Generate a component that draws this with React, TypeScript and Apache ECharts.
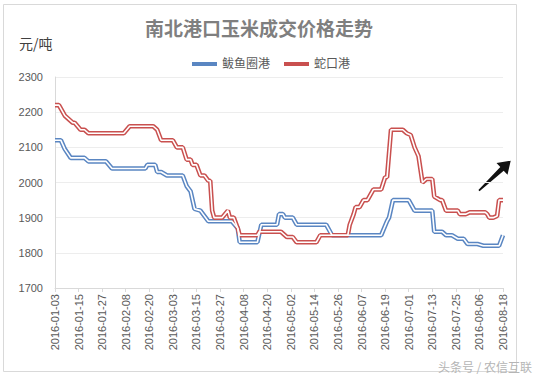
import React, { useEffect, useRef } from "react";
import * as echarts from "echarts";

const xTickLabels = [
  "2016-01-03", "2016-01-15", "2016-01-27", "2016-02-08", "2016-02-20",
  "2016-03-03", "2016-03-15", "2016-03-27", "2016-04-08", "2016-04-20",
  "2016-05-02", "2016-05-14", "2016-05-26", "2016-06-07", "2016-06-19",
  "2016-07-01", "2016-07-13", "2016-07-25", "2016-08-06", "2016-08-18",
];

// day offset from 2016-01-03
const bayuquanDays = [0, 3, 5, 8, 15, 17, 26, 29, 46, 47, 51, 52, 54, 57, 65, 67, 69, 71, 74, 78, 90, 93, 94, 103, 105, 113, 114, 116, 117, 121, 123, 138, 141, 166, 169, 170, 172, 180, 182, 183, 192, 193, 197, 199, 202, 205, 208, 210, 215, 218, 226, 228];
const bayuquanValues = [2120, 2120, 2095, 2070, 2070, 2060, 2060, 2040, 2040, 2050, 2050, 2030, 2030, 2020, 2020, 1990, 1975, 1925, 1920, 1890, 1890, 1870, 1830, 1830, 1880, 1880, 1910, 1910, 1900, 1900, 1880, 1880, 1850, 1850, 1890, 1900, 1950, 1950, 1930, 1920, 1920, 1860, 1860, 1850, 1850, 1840, 1840, 1825, 1825, 1820, 1820, 1850];

const shekouDays = [0, 2, 5, 9, 10, 13, 15, 17, 35, 38, 50, 52, 54, 60, 62, 65, 67, 69, 70, 72, 74, 76, 78, 79, 80, 81, 85, 88, 89, 91, 93, 94, 103, 104, 115, 118, 121, 123, 133, 135, 149, 150, 152, 153, 155, 157, 159, 162, 166, 168, 169, 171, 177, 179, 181, 183, 185, 187, 189, 192, 193, 196, 197, 199, 205, 206, 209, 211, 219, 220, 221, 223, 225, 226, 228];
const shekouValues = [2220, 2220, 2190, 2170, 2170, 2150, 2150, 2140, 2140, 2160, 2160, 2150, 2120, 2120, 2100, 2100, 2065, 2065, 2050, 2050, 2020, 2020, 2005, 2005, 1920, 1900, 1900, 1920, 1900, 1900, 1870, 1850, 1850, 1860, 1860, 1845, 1845, 1830, 1830, 1850, 1850, 1880, 1910, 1930, 1930, 1950, 1950, 1980, 1980, 2015, 2015, 2150, 2150, 2140, 2135, 2100, 2075, 2000, 2010, 2010, 1960, 1950, 1950, 1920, 1920, 1910, 1910, 1915, 1915, 1910, 1900, 1900, 1905, 1950, 1950];

const seriesNames = ["鲅鱼圈港", "蛇口港"];
const FONT = "Liberation Sans, Noto Sans CJK SC, sans-serif";

function pairs(days: number[], vals: number[]) {
  return days.map((d, i) => [d, vals[i]]);
}

export default function App() {
  const ref = useRef<HTMLDivElement>(null);
  useEffect(() => {
    if (!ref.current) return;
    const chart = echarts.init(ref.current, undefined, { renderer: "svg" });
    const blue = "#5a86c2";
    const red = "#c9504f";
    const mk = (name: string, data: number[][], color: string, inner: boolean) => ({
      type: "line",
      name: inner ? name + "_inner" : name,
      data,
      symbol: "none",
      showSymbol: false,
      silent: inner,
      lineStyle: { color: inner ? "#ffffff" : color, width: inner ? 1.6 : 4.6 },
      itemStyle: { color },
      z: inner ? 3 : 2,
    });
    chart.setOption({
      animation: false,
      textStyle: { fontFamily: FONT },
      grid: { left: 55, right: 37, top: 77, bottom: 90, containLabel: false },
      legend: {
        data: seriesNames,
        left: 187,
        top: 53,
        icon: "rect",
        itemWidth: 25,
        itemHeight: 4,
        itemGap: 14,
        textStyle: { fontSize: 12, color: "#595959", fontFamily: FONT },
      },
      xAxis: {
        type: "value",
        min: 0,
        max: 228,
        interval: 12,
        axisLine: { show: true, lineStyle: { color: "#d9d9d9" } },
        axisTick: { show: true, length: 4, lineStyle: { color: "#d9d9d9" } },
        splitLine: { show: false },
        axisLabel: {
          rotate: 90,
          fontSize: 11,
          color: "#595959",
          margin: 6,
          formatter: (v: number) => xTickLabels[Math.round(v / 12)] ?? "",
        },
      },
      yAxis: {
        type: "value",
        min: 1700,
        max: 2300,
        interval: 100,
        axisLine: { show: true, lineStyle: { color: "#d9d9d9" } },
        axisTick: { show: false },
        splitLine: { lineStyle: { color: "#ededed" } },
        axisLabel: { fontSize: 11, color: "#595959", margin: 12, formatter: (v: number) => String(v) },
      },
      series: [
        mk(seriesNames[0], pairs(bayuquanDays, bayuquanValues), blue, false),
        mk(seriesNames[0], pairs(bayuquanDays, bayuquanValues), blue, true),
        mk(seriesNames[1], pairs(shekouDays, shekouValues), red, false),
        mk(seriesNames[1], pairs(shekouDays, shekouValues), red, true),
      ],
      graphic: [
        {
          type: "rect",
          shape: { x: 3.5, y: 4.5, width: 513, height: 367 },
          style: { fill: "none", stroke: "#d9d9d9", lineWidth: 1 },
          silent: true,
        },
        {
          type: "text",
          x: 259,
          y: 27,
          style: {
            text: "南北港口玉米成交价格走势",
            fontSize: 19,
            fontWeight: "bold",
            fill: "#7f7f7f",
            textAlign: "center",
            textVerticalAlign: "middle",
            fontFamily: "Noto Sans CJK SC, sans-serif",
          },
        },
        {
          type: "text",
          x: 19,
          y: 43,
          style: {
            text: "元/吨",
            fontSize: 14,
            fill: "#404040",
            textVerticalAlign: "middle",
            fontFamily: "Noto Sans CJK SC, sans-serif",
          },
        },
        {
          type: "polygon",
          shape: {
            points: [
              [478.4, 190.1],
              [500.3, 167.1],
              [496.5, 163.1],
              [510.7, 160.7],
              [507.5, 174.7],
              [503.7, 170.7],
              [479.5, 191.3],
            ],
          },
          style: { fill: "#111111" },
        },
        {
          type: "text",
          x: 532,
          y: 366,
          style: {
            text: "头条号 / 农信互联",
            fontSize: 12,
            fill: "#b5b5b5",
            textAlign: "right",
            textVerticalAlign: "middle",
            fontFamily: "Noto Sans CJK SC, sans-serif",
          },
        },
      ],
    });
    return () => chart.dispose();
  }, []);
  return <div ref={ref} style={{ width: 540, height: 378, position: "absolute", left: 0, top: 0 }} />;
}
